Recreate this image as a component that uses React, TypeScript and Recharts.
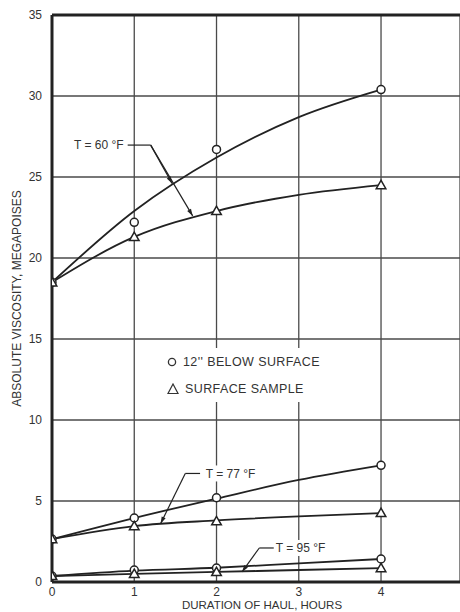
import { ComposedChart, Line, Scatter, XAxis, YAxis, CartesianGrid, ReferenceLine, ReferenceDot, Legend } from 'recharts';

// hours of haul
const hours = [0, 1, 2, 3, 4];
const sampleHours = [0, 1, 2, 4];

// fitted curves (megapoises)
const curve60Below = [18.5, 22.9, 26.2, 28.7, 30.4];
const curve60Surface = [18.5, 21.3, 22.9, 23.9, 24.5];
const curve77Below = [2.65, 3.95, 5.15, 6.3, 7.2];
const curve77Surface = [2.65, 3.45, 3.8, 4.05, 4.25];
const curve95Below = [0.37, 0.7, 0.88, 1.15, 1.42];
const curve95Surface = [0.37, 0.5, 0.62, 0.74, 0.86];

// measured points
const pts60Below = [18.5, 22.2, 26.7, 30.4];
const pts60Surface = [18.5, 21.3, 22.9, 24.5];
const pts77Below = [2.65, 3.95, 5.2, 7.2];
const pts77Surface = [2.65, 3.45, 3.75, 4.26];
const pts95Below = [0.37, 0.74, 0.86, 1.42];
const pts95Surface = [0.37, 0.5, 0.62, 0.86];

const yTicks = [0, 5, 10, 15, 20, 25, 30, 35];
const xTicks = [0, 1, 2, 3, 4];

const INK = '#222';
const FONT = '"Liberation Sans", Arial, sans-serif';

const toRows = (xs: number[], ys: number[]) => xs.map((x, i) => ({ x, y: ys[i] }));

const belowPts = [...toRows(sampleHours, pts60Below), ...toRows(sampleHours, pts77Below), ...toRows(sampleHours, pts95Below)];
const surfacePts = [...toRows(sampleHours, pts60Surface), ...toRows(sampleHours, pts77Surface), ...toRows(sampleHours, pts95Surface)];

const curves = [curve60Below, curve60Surface, curve77Below, curve77Surface, curve95Below, curve95Surface];

// annotation leaders: label anchor, elbow, arrow tips
const notes = [
  { text: 'T = 60 °F', at: { x: 0.87, y: 26.97 }, anchor: 'end', path: [{ x: 0.92, y: 26.97 }, { x: 1.2, y: 26.97 }], tips: [{ x: 1.46, y: 24.6 }, { x: 1.71, y: 22.6 }] },
  { text: 'T = 77 °F', at: { x: 1.87, y: 6.7 }, anchor: 'start', path: [{ x: 1.8, y: 6.7 }, { x: 1.62, y: 6.7 }], tips: [{ x: 1.32, y: 3.6 }] },
  { text: 'T = 95 °F', at: { x: 2.72, y: 2.1 }, anchor: 'start', path: [{ x: 2.7, y: 2.1 }, { x: 2.52, y: 2.1 }], tips: [{ x: 2.31, y: 0.62 }] },
];

function Circle(props: any) {
  const { cx, cy } = props;
  return <circle cx={cx} cy={cy} r={4} fill="#fff" stroke={INK} strokeWidth={1.5} />;
}

function Triangle(props: any) {
  const { cx, cy } = props;
  const s = 4.8;
  return <polygon points={`${cx},${cy - s} ${cx - s},${cy + s * 0.75} ${cx + s},${cy + s * 0.75}`} fill="#fff" stroke={INK} strokeWidth={1.5} />;
}

function arrowLine(p: any) {
  const { x1, y1, x2, y2 } = p;
  const a = Math.atan2(y2 - y1, x2 - x1);
  const L = 7;
  const w = 2.2;
  const bx = x2 - L * Math.cos(a);
  const by = y2 - L * Math.sin(a);
  const px = -Math.sin(a) * w;
  const py = Math.cos(a) * w;
  return (
    <g>
      <line x1={x1} y1={y1} x2={x2} y2={y2} stroke={INK} strokeWidth={1.2} />
      <polygon points={`${x2},${y2} ${bx + px},${by + py} ${bx - px},${by - py}`} fill={INK} />
    </g>
  );
}

function plainLine(p: any) {
  return <line x1={p.x1} y1={p.y1} x2={p.x2} y2={p.y2} stroke={INK} strokeWidth={1.2} />;
}

function noteText(text: string, anchor: string) {
  return (p: any) => {
    const w = text.length * 6.3;
    const rx = anchor === 'end' ? p.cx - w : p.cx;
    return (
      <g>
        <rect x={rx - 2} y={p.cy - 8} width={w + 4} height={16} fill="#fff" />
        <text x={p.cx} y={p.cy} dy="0.35em" textAnchor={anchor} fontSize={12} fontFamily={FONT} fill="#333">
          {text}
        </text>
      </g>
    );
  };
}

function LegendBox() {
  const row = { display: 'flex', alignItems: 'center', height: 27, gap: 6 } as const;
  return (
    <div style={{ background: '#fff', padding: '0 4px', fontFamily: FONT, fontSize: 12.5, color: '#333', letterSpacing: 0.4 }}>
      <div style={row}>
        <svg width={10} height={10}><circle cx={5} cy={5} r={3.6} fill="#fff" stroke="#333" strokeWidth={1.3} /></svg>
        <span>12'' BELOW SURFACE</span>
      </div>
      <div style={row}>
        <svg width={12} height={12}><polygon points="6,1 1,10.5 11,10.5" fill="#fff" stroke="#333" strokeWidth={1.2} /></svg>
        <span>SURFACE SAMPLE</span>
      </div>
    </div>
  );
}

export default function App() {
  return (
    <div style={{ position: 'absolute', left: 0, top: 0, width: 460, height: 612, background: '#fff', overflow: 'hidden' }}>
      <ComposedChart width={460} height={612} margin={{ top: 15, right: 0, bottom: 0, left: 0 }}>
        <CartesianGrid stroke="#4a4a4a" strokeWidth={1.3} />
        <XAxis
          dataKey="x"
          type="number"
          domain={[0, 4.96]}
          ticks={xTicks}
          allowDataOverflow
          height={30}
          tickSize={0}
          tickMargin={5}
          axisLine={{ stroke: INK, strokeWidth: 3 }}
          tick={{ fill: '#333', fontSize: 12, fontFamily: FONT }}
          label={{ value: 'DURATION OF HAUL, HOURS', position: 'insideBottom', offset: 3, dx: 6, fill: '#333', fontSize: 11.5, fontFamily: FONT }}
        />
        <YAxis
          type="number"
          domain={[0, 35]}
          ticks={yTicks}
          width={52}
          tickSize={0}
          tickMargin={10}
          axisLine={{ stroke: INK, strokeWidth: 3 }}
          tick={{ fill: '#333', fontSize: 12, fontFamily: FONT }}
          label={{
            content: (p: any) => (
              <text
                x={17}
                y={p.viewBox.y + p.viewBox.height / 2}
                transform={`rotate(-90, 17, ${p.viewBox.y + p.viewBox.height / 2})`}
                textAnchor="middle"
                dy="0.35em"
                fontSize={12}
                fontFamily={FONT}
                fill="#333"
              >
                ABSOLUTE VISCOSITY, MEGAPOISES
              </text>
            ),
          }}
        />
        <ReferenceLine y={35} stroke={INK} strokeWidth={3} />
        <Legend
          layout="horizontal"
          verticalAlign="middle"
          align="center"
          content={() => <LegendBox />}
          wrapperStyle={{ position: 'absolute', left: 163, top: 348, width: 'auto', bottom: 'auto' }}
        />
        {curves.map((c, i) => (
          <Line
            key={i}
            data={toRows(hours, c)}
            dataKey="y"
            type="monotone"
            dot={false}
            stroke={INK}
            strokeWidth={1.8}
            isAnimationActive={false}
            legendType="none"
          />
        ))}
        {notes.map((n, i) => (
          <ReferenceLine key={`p${i}`} segment={n.path as any} shape={plainLine} />
        ))}
        {notes.flatMap((n, i) =>
          n.tips.map((t, j) => <ReferenceLine key={`t${i}${j}`} segment={[n.path[1], t] as any} shape={arrowLine} />)
        )}
        {notes.map((n, i) => (
          <ReferenceDot key={`n${i}`} x={n.at.x} y={n.at.y} r={0} shape={noteText(n.text, n.anchor)} />
        ))}
        <Scatter data={belowPts} dataKey="y" shape={Circle} isAnimationActive={false} legendType="none" />
        <Scatter data={surfacePts} dataKey="y" shape={Triangle} isAnimationActive={false} legendType="none" />
      </ComposedChart>
    </div>
  );
}
